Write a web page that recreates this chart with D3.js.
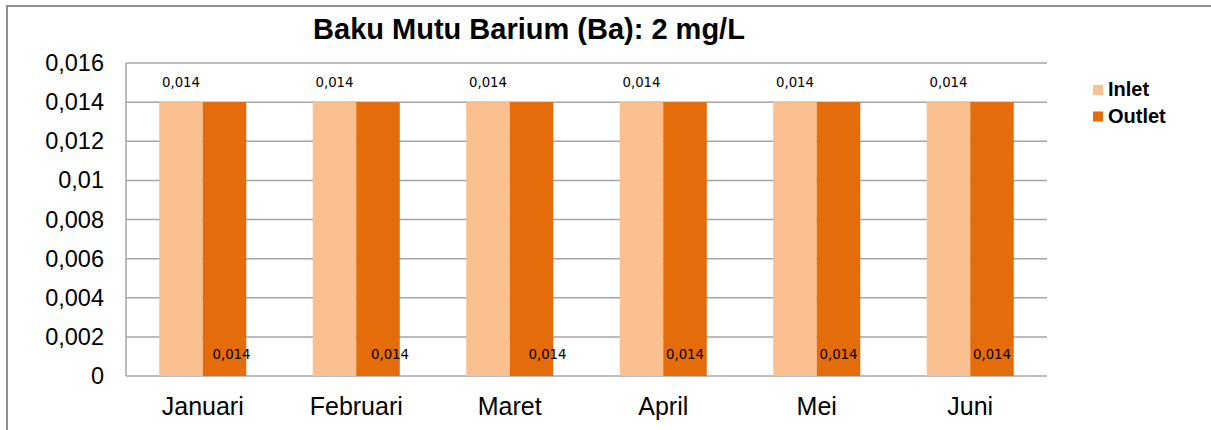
<!DOCTYPE html>
<html>
<head>
<meta charset="utf-8">
<script src="https://cdn.jsdelivr.net/npm/d3@7"></script>
<style>
  html, body { margin: 0; padding: 0; background: #fff; }
  svg { display: block; }
</style>
</head>
<body>
<svg id="chart" width="1211" height="430"></svg>
<script>
// ---- data ----
const categories = ["Januari", "Februari", "Maret", "April", "Mei", "Juni"];
const seriesNames = ["Inlet", "Outlet"];
const inletValues = [0.014, 0.014, 0.014, 0.014, 0.014, 0.014];
const outletValues = [0.014, 0.014, 0.014, 0.014, 0.014, 0.014];
const yTicks = [0, 0.002, 0.004, 0.006, 0.008, 0.01, 0.012, 0.014, 0.016];
const yTickLabels = ["0", "0,002", "0,004", "0,006", "0,008", "0,01", "0,012", "0,014", "0,016"];
const inletLabels = ["0,014", "0,014", "0,014", "0,014", "0,014", "0,014"];
const outletLabels = ["0,014", "0,014", "0,014", "0,014", "0,014", "0,014"];
const titleText = "Baku Mutu Barium (Ba): 2 mg/L";

// ---- styling ----
const colors = { Inlet: "#FAC090", Outlet: "#E46C0A" };
const outletLabelNudge = [7, 12, 16, 0, 0, 0]; // hand-placed label offsets in the original

const svg = d3.select("#chart");

// outer chart border
svg.append("rect")
  .attr("x", 7).attr("y", 6)
  .attr("width", 1240).attr("height", 460)
  .attr("fill", "none").attr("stroke", "#8f8f8f").attr("stroke-width", 2);

const plot = { left: 126, right: 1047, top: 63, bottom: 376 };

const x0 = d3.scaleBand().domain(categories).range([plot.left, plot.right]).paddingInner(0.433).paddingOuter(0.2165);
const x1 = d3.scaleBand().domain(seriesNames).range([0, x0.bandwidth()]);
const y = d3.scaleLinear().domain([0, 0.016]).range([plot.bottom, plot.top]);

// gridlines
svg.append("g")
  .selectAll("line").data(yTicks).join("line")
  .attr("x1", plot.left).attr("x2", plot.right)
  .attr("y1", d => y(d)).attr("y2", d => y(d))
  .attr("stroke", "#a6a6a6").attr("stroke-width", 1.5);

// y axis line
svg.append("line")
  .attr("x1", plot.left).attr("x2", plot.left)
  .attr("y1", plot.top).attr("y2", plot.bottom)
  .attr("stroke", "#a6a6a6").attr("stroke-width", 1.5);

// y axis labels via d3 axis
const yAxis = d3.axisLeft(y).tickValues(yTicks)
  .tickFormat((d, i) => yTickLabels[i]).tickSize(0).tickPadding(22);
const yg = svg.append("g").attr("transform", `translate(${plot.left},0)`).call(yAxis);
yg.select(".domain").remove();
yg.selectAll("text")
  .attr("font-family", "'Liberation Sans', Arial, sans-serif")
  .attr("font-size", 23.5).attr("fill", "#000");

// x axis labels
const xAxis = d3.axisBottom(x0).tickSize(0).tickPadding(21);
const xg = svg.append("g").attr("transform", `translate(0,${plot.bottom})`).call(xAxis);
xg.select(".domain").remove();
xg.selectAll("text")
  .attr("font-family", "'Liberation Sans', Arial, sans-serif")
  .attr("font-size", 25).attr("fill", "#000");

// bars
const rows = categories.map((c, i) => ({ cat: c, i, Inlet: inletValues[i], Outlet: outletValues[i], li: inletLabels[i], lo: outletLabels[i] }));
const groups = svg.append("g").selectAll("g").data(rows).join("g")
  .attr("transform", d => `translate(${x0(d.cat)},0)`);

groups.selectAll("rect").data(d => seriesNames.map(s => ({ s, v: d[s] }))).join("rect")
  .attr("x", d => x1(d.s))
  .attr("y", d => y(d.v))
  .attr("width", x1.bandwidth())
  .attr("height", d => y(0) - y(d.v))
  .attr("fill", d => colors[d.s]);

// data labels
const lblFont = "'DejaVu Sans', sans-serif";
groups.append("text")
  .attr("x", x1("Inlet") + x1.bandwidth() / 2)
  .attr("y", d => y(d.Inlet) - 15)
  .attr("text-anchor", "middle")
  .attr("font-family", lblFont).attr("font-size", 13.3).attr("fill", "#000")
  .text(d => d.li);

groups.append("text")
  .attr("x", d => x1("Outlet") + x1.bandwidth() / 2 + outletLabelNudge[d.i])
  .attr("y", y(0) - 17)
  .attr("text-anchor", "middle")
  .attr("font-family", lblFont).attr("font-size", 13.3).attr("fill", "#000")
  .text(d => d.lo);

// title
svg.append("text")
  .attr("x", 529).attr("y", 39)
  .attr("text-anchor", "middle")
  .attr("font-family", "'Liberation Sans', Arial, sans-serif")
  .attr("font-weight", "bold").attr("font-size", 29).attr("fill", "#000")
  .text(titleText);

// legend
const legend = svg.append("g").selectAll("g").data(seriesNames).join("g")
  .attr("transform", (d, i) => `translate(1093,${85 + i * 26.5})`);
legend.append("rect").attr("width", 10).attr("height", 10).attr("fill", d => colors[d]);
legend.append("text")
  .attr("x", 15).attr("y", 11)
  .attr("font-family", "'Liberation Sans', Arial, sans-serif")
  .attr("font-weight", "bold").attr("font-size", 20).attr("fill", "#000")
  .text(d => d);
</script>
</body>
</html>
